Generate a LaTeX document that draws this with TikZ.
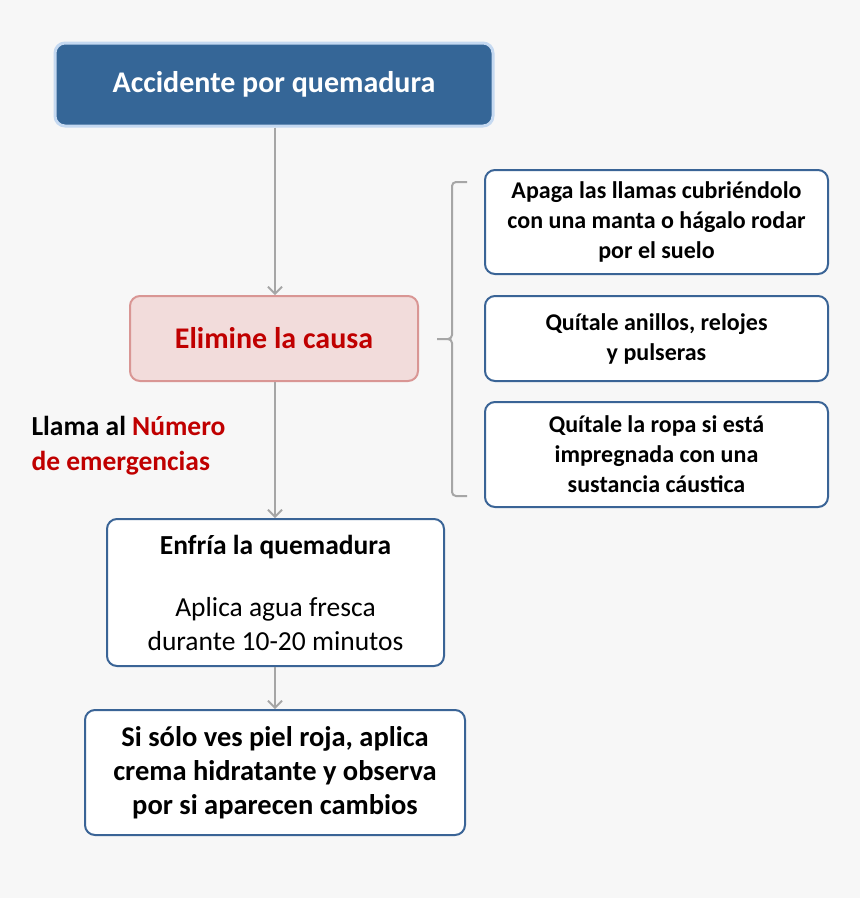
\documentclass[tikz,border=0pt]{standalone}
\usepackage{fontspec}
\setmainfont{Carlito}
\usetikzlibrary{arrows.meta}
\definecolor{bg}{HTML}{F7F7F7}
\definecolor{topfill}{HTML}{356697}
\definecolor{topline}{HTML}{C5D9F1}
\definecolor{pinkfill}{HTML}{F2DCDB}
\definecolor{pinkline}{HTML}{D99694}
\definecolor{darkred}{HTML}{C00000}
\definecolor{blueline}{HTML}{3A6496}
\definecolor{arrowgray}{HTML}{A6A6A6}
\begin{document}
\begin{tikzpicture}[x=1pt,y=-1pt,
  box/.style={draw=blueline,line width=2pt,fill=white,rounded corners=10pt,align=center,font=\fontsize{24}{30}\selectfont\bfseries},
  arr/.style={draw=arrowgray,line width=1.8pt,-{Straight Barb[length=7pt,width=14pt]}}]
\fill[bg] (0,0) rectangle (860,898);
\useasboundingbox (0,0) rectangle (860,898);
\node[draw=topline,line width=3pt,fill=topfill,rounded corners=10pt,minimum width=438pt,minimum height=83pt,text=white,font=\fontsize{30}{34}\selectfont\bfseries] (top) at (274,84.5) {Accidente por quemadura};
\node[draw=pinkline,line width=2pt,fill=pinkfill,rounded corners=10pt,minimum width=288pt,minimum height=85pt,text=darkred,font=\fontsize{30}{34}\selectfont\bfseries] (elim) at (274,338.5) {Elimine la causa};
\node[box,minimum width=343pt,minimum height=104pt] (r1) at (656.5,222) {Apaga las llamas cubriéndolo\\con una manta o hágalo rodar\\por el suelo};
\node[box,minimum width=343pt,minimum height=85pt] (r2) at (656.5,338.5) {Quítale anillos, relojes\\y pulseras};
\node[box,minimum width=343pt,minimum height=105pt] (r3) at (656.5,454.5) {Quítale la ropa si está\\impregnada con una\\sustancia cáustica};
\node[box,minimum width=337pt,minimum height=147pt,font=\fontsize{27.5}{34}\selectfont] (enf) at (275.5,592.5) {\textbf{Enfría la quemadura}\\[28pt]Aplica agua fresca\\durante 10-20 minutos};
\node[box,minimum width=380pt,minimum height=125pt,font=\fontsize{28.5}{34}\selectfont\bfseries] (last) at (275,772.5) {Si sólo ves piel roja, aplica\\crema hidratante y observa\\por si aparecen cambios};
\node[anchor=west,align=left,font=\fontsize{27.5}{35}\selectfont\bfseries] (llama) at (28,445.5) {Llama al \textcolor{darkred}{Número}\\\textcolor{darkred}{de emergencias}};
\draw[arr] (top.south -| 275,0) -- (elim.north -| 275,0);
\draw[arr] (elim.south -| 275,0) -- (enf.north -| 275,0);
\draw[arr] (enf.south -| 275,0) -- (last.north -| 275,0);
\coordinate (bt) at (467,182);
\coordinate (bb) at (467,496);
\coordinate (bm) at (437,339);
\draw[arrowgray,line width=2pt] (bt) -- (456,182) to[out=180,in=90] (452,186) -- (452,335) to[out=-90,in=0] (448,339) -- (bm);
\draw[arrowgray,line width=2pt] (448,339) to[out=0,in=90] (452,343) -- (452,492) to[out=-90,in=180] (456,496) -- (bb);
\end{tikzpicture}
\end{document}
